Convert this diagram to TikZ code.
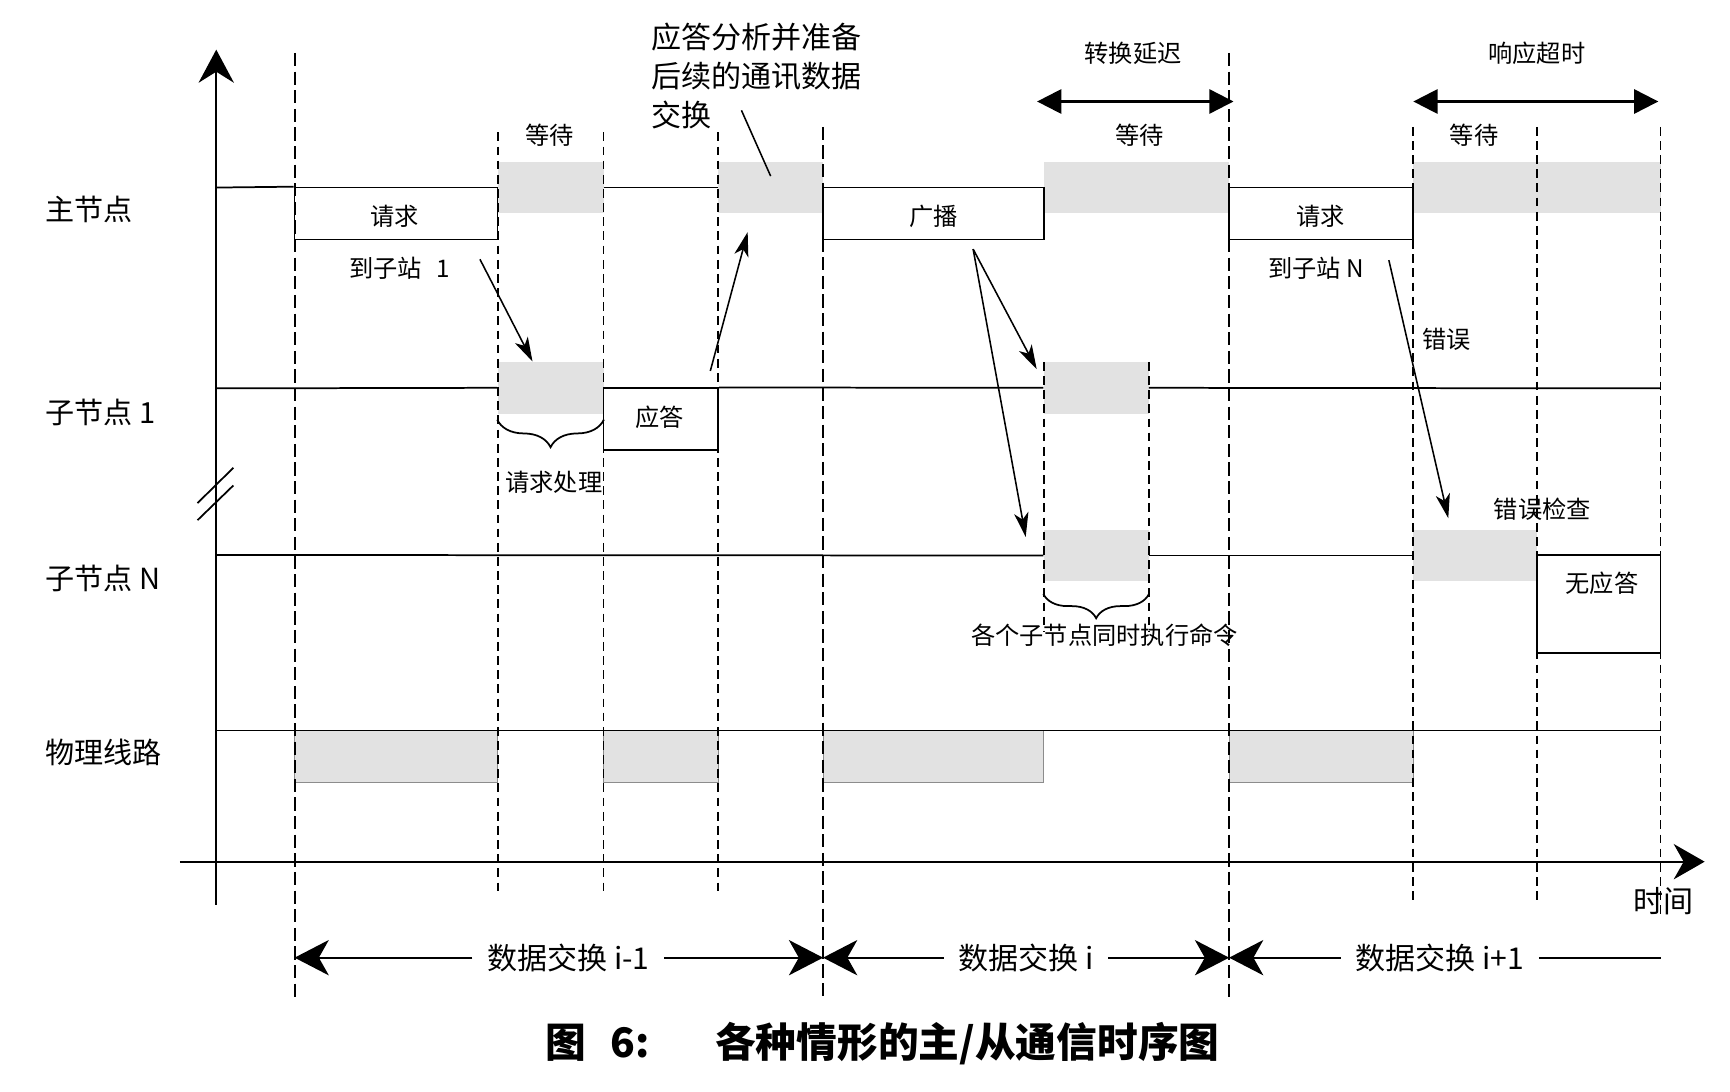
\documentclass[tikz,border=0pt]{standalone}
\usepackage{fontspec}
\setmainfont{Noto Sans CJK SC}
\usepackage{tikz}
\usetikzlibrary{arrows.meta, positioning, fit, decorations.pathreplacing}
\definecolor{waitgray}{HTML}{E2E2E2}
\definecolor{busedge}{HTML}{8C8C8C}
\newcommand{\rowfont}{\fontsize{15pt}{18pt}\selectfont}
\newcommand{\notefont}{\fontsize{12.5pt}{15pt}\selectfont}
\newcommand{\bigfont}{\fontsize{15.5pt}{20.2pt}\selectfont}
\newcommand{\capfont}{\fontsize{21pt}{24pt}\selectfont\bfseries}
\tikzstyle{waitbox} = [rectangle, fill=waitgray, draw=none, inner sep=0pt]
\tikzstyle{busbox} = [rectangle, fill=waitgray, draw=busedge, line width=0.5pt, inner sep=0pt]
\tikzstyle{msgbox} = [rectangle, draw=black, line width=0.9pt, inner sep=0pt]
\tikzstyle{sig} = [line width=0.9pt]
\tikzstyle{longdash} = [line width=1pt, dash pattern=on 6.8pt off 2.8pt]
\tikzstyle{shortdash} = [line width=1pt, dash pattern=on 4.5pt off 2.8pt]
\tikzstyle{ptr} = [line width=0.8pt, -{Stealth[length=4.4mm, width=2.6mm, inset=1.2mm]}]
\tikzstyle{spanarrow} = [line width=1.2pt, {Triangle[length=4.4mm, width=4.4mm]}-{Triangle[length=4.4mm, width=4.4mm]}]
\tikzstyle{dimarrow} = [line width=1pt, -{Stealth[length=6.2mm, width=6.4mm, inset=1.8mm]}]
\tikzstyle{axisline} = [line width=1pt]
\tikzstyle{note} = [font=\notefont, inner sep=1pt]
\tikzstyle{rowlabel} = [font=\rowfont, anchor=west, inner sep=0pt]
\tikzstyle{ubrace} = [line width=0.9pt, decorate, decoration={brace, mirror, amplitude=5mm}]

\begin{document}
\begin{tikzpicture}[x=0.2mm, y=-0.2mm]
    \useasboundingbox (0,0) rectangle (1568,989);

    % Wait / busy slots
    \node[waitbox, fit={(451,147) (547,193)}] (mwait1) {};
    \node[waitbox, fit={(651,147) (746,193)}] (mwait2) {};
    \node[waitbox, fit={(946,147) (1114,193)}] (mwait3) {};
    \node[waitbox, fit={(1281,147) (1505,193)}] (mwait4) {};
    \node[waitbox, fit={(451,328) (547,375)}] (s1wait1) {};
    \node[waitbox, fit={(946,328) (1041,375)}] (s1wait2) {};
    \node[waitbox, fit={(946,480) (1041,527)}] (snwait1) {};
    \node[waitbox, fit={(1281,480) (1393,527)}] (snwait2) {};

    % Bus occupancy
    \node[busbox, fit={(267,662) (451,709)}] (bus1) {};
    \node[busbox, fit={(547,662) (651,709)}] (bus2) {};
    \node[busbox, fit={(746,662) (946,709)}] (bus3) {};
    \node[busbox, fit={(1114,662) (1281,709)}] (bus4) {};

    % Time marks
    \draw[longdash] (267,48) -- (267,905);
    \draw[longdash] (746,115) -- (746,905);
    \draw[longdash] (1114,48) -- (1114,905);
    \draw[shortdash] (451,120) -- (451,812);
    \draw[shortdash] (547,120) -- (547,812);
    \draw[shortdash] (651,120) -- (651,812);
    \draw[shortdash] (946,328) -- (946,572);
    \draw[shortdash] (1041,328) -- (1041,572);
    \draw[shortdash] (1281,115) -- (1281,820);
    \draw[shortdash] (1393,115) -- (1393,820);
    \draw[shortdash] (1505,115) -- (1505,830);

    % Frames
    \node[msgbox, fit={(267,170) (451,217)}] (req1) {};
    \node[msgbox, fit={(547,352) (651,408)}] (ans) {};
    \node[msgbox, fit={(746,170) (946,217)}] (bcast) {};
    \node[msgbox, fit={(1114,170) (1281,217)}] (req2) {};
    \node[msgbox, fit={(1393,503) (1505,592)}] (noans) {};
    \node[note] (req1text) at (358,196) {请求};
    \node[note] (anstext) at (598,378) {应答};
    \node[note] (bcasttext) at (846,196) {广播};
    \node[note] (req2text) at (1197,196) {请求};
    \node[note] (noanstext) at (1452,529) {无应答};

    % Row traces
    \coordinate (m0) at (196,170);
    \coordinate (s0) at (196,352);
    \coordinate (s1end) at (1505,352);
    \coordinate (n0) at (196,503);
    \coordinate (b0) at (196,662);
    \coordinate (b1) at (1505,662);
    \draw[sig] (m0) -- (req1.north west);
    \draw[sig] (mwait1.east) -- (mwait2.west);
    \draw[sig] (s0) -- (s1wait1.west);
    \draw[sig] (ans.north east) -- (s1wait2.west);
    \draw[sig] (s1wait2.east) -- (s1end);
    \draw[sig] (n0) -- (snwait1.west);
    \draw[sig] (snwait1.east) -- (snwait2.west);
    \draw[sig] (b0) -- (b1);

    % Row labels
    \node[rowlabel] (master) at (41,190) {主节点};
    \node[rowlabel] (slave1) at (41,374) {子节点~1};
    \node[rowlabel] (slaven) at (41,524) {子节点~N};
    \node[rowlabel] (line) at (41,682) {物理线路};

    % Axes
    \coordinate (ybot) at (196,820);
    \coordinate (ytop) at (196,45);
    \coordinate (tleft) at (163,781);
    \coordinate (tright) at (1545,781);
    \draw[axisline, -{Stealth[length=6mm, width=6.4mm, inset=2mm]}] (ybot) -- (ytop);
    \draw[axisline, -{Stealth[length=5.6mm, width=6.4mm, inset=1.8mm]}] (tleft) -- (tright);
    \node[font=\bigfont] (time) at (1508,817) {时间};
    \draw[line width=0.9pt] (179,456) -- (211.5,424);
    \draw[line width=0.9pt] (179,471.5) -- (211.5,440);

    % Notes
    \node[note] (wait1) at (498,123) {等待};
    \node[note] (wait2) at (1033,123) {等待};
    \node[note] (wait3) at (1336,123) {等待};
    \node[note] (to1) at (362,243) {到子站\hspace{0.6em}1};
    \node[note] (ton) at (1193,243) {到子站~N};
    \node[note] (err) at (1311,308) {错误};
    \node[note] (errchk) at (1398,462) {错误检查};
    \node[note] (proc) at (502,437) {请求处理};
    \node[note] (exec) at (1001,576) {各个子节点同时执行命令};
    \node[font=\bigfont, align=left, anchor=west, inner sep=0pt] (ansnote) at (590,69) {应答分析并准备\\后续的通讯数据\\交换};

    % Braces
    \draw[ubrace] ([yshift=-1mm]s1wait1.south west) -- ([yshift=-1mm]s1wait1.south east);
    \draw[ubrace, decoration={amplitude=4.4mm}] ([yshift=-2.2mm]snwait1.south west) -- ([yshift=-2.2mm]snwait1.south east);

    % Message arrows
    \coordinate (to1tail) at (435,235);
    \coordinate (anstail) at (672,100);
    \draw[ptr] (to1tail) -- ([xshift=6.4mm]s1wait1.north west);
    \draw[ptr] ([xshift=-1.6mm, yshift=3mm]ans.north east) -- ([xshift=5.4mm, yshift=-3.4mm]mwait2.south west);
    \draw[line width=0.8pt] ([yshift=-2.6mm]mwait2.north) -- (anstail);
    \draw[ptr] ([xshift=7.2mm, yshift=-1.6mm]bcast.south) -- ([xshift=-1.2mm, yshift=-1.4mm]s1wait2.north west);
    \draw[ptr] ([xshift=7.2mm, yshift=-1.6mm]bcast.south) -- ([xshift=-3.2mm, yshift=-1.4mm]snwait1.north west);
    \draw[ptr] ([xshift=-4.6mm, yshift=-3.6mm]req2.south east) -- ([xshift=6.4mm, yshift=2mm]snwait2.north west);

    % Delay spans
    \coordinate (dly1) at (940,92);
    \coordinate (dly2) at (1118,92);
    \coordinate (tmo1) at (1281,92);
    \coordinate (tmo2) at (1503,92);
    \draw[spanarrow] (dly1) -- (dly2);
    \draw[spanarrow] (tmo1) -- (tmo2);
    \node[note] (delay) at (1027,48) {转换延迟};
    \node[note] (timeout) at (1393,48) {响应超时};

    % Exchange spans
    \coordinate (xa) at (267,868);
    \coordinate (xe) at (746,868);
    \coordinate (xh) at (1114,868);
    \coordinate (xk) at (1505,868);
    \node[font=\bigfont, inner xsep=2.6mm] (xchg1) at (515,868) {数据交换 i-1};
    \node[font=\bigfont, inner xsep=2.6mm] (xchg2) at (930,868) {数据交换 i};
    \node[font=\bigfont, inner xsep=2.6mm] (xchg3) at (1305,868) {数据交换 i+1};
    \draw[dimarrow] (xchg1.west) -- (xa);
    \draw[dimarrow] (xchg1.east) -- (xe);
    \draw[dimarrow] (xchg2.west) -- (xe);
    \draw[dimarrow] (xchg2.east) -- (xh);
    \draw[dimarrow] (xchg3.west) -- (xh);
    \draw[line width=1pt] (xchg3.east) -- (xk);

    % Caption
    \node[font=\capfont] (caption) at (800,946) {图\hspace{0.6em}6:\hspace{1.6em}各种情形的主/从通信时序图};
\end{tikzpicture}
\end{document}
